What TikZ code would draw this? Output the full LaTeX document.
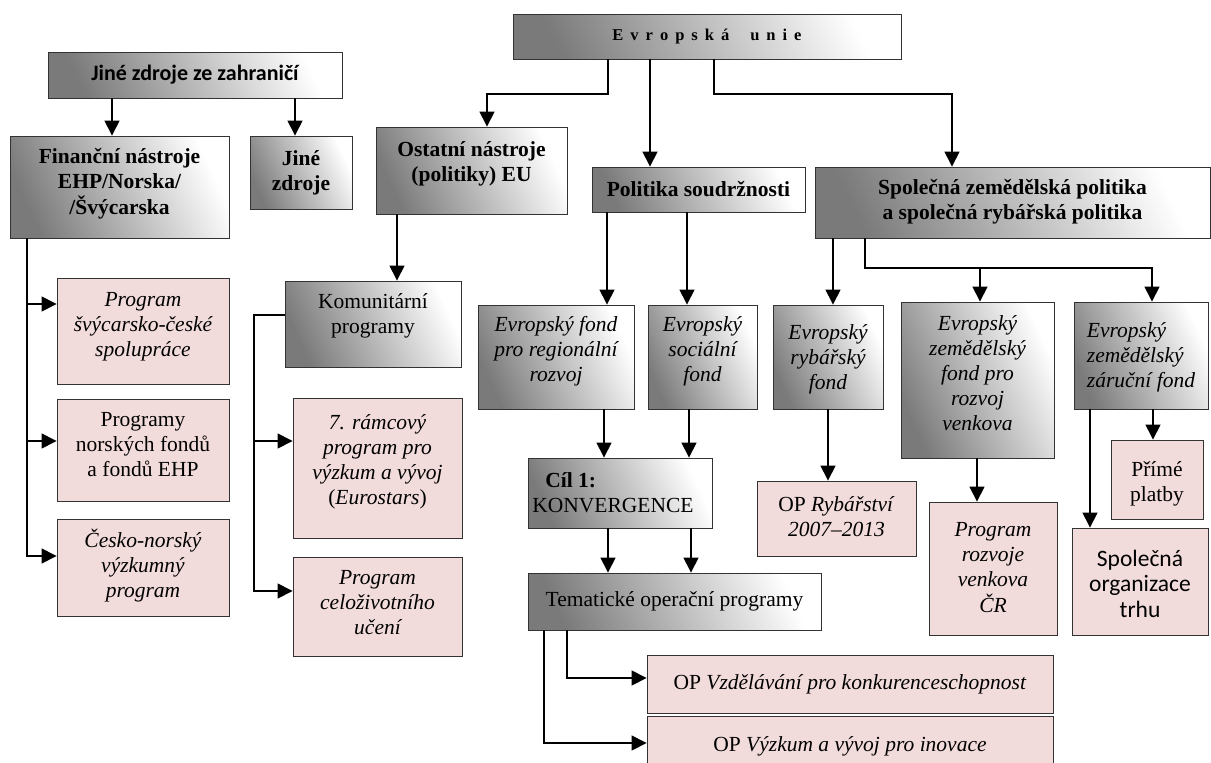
\documentclass[tikz,border=0pt]{standalone}
\usepackage{fontspec}
\setmainfont{Liberation Serif}
\newfontfamily\calib{Carlito}
\usetikzlibrary{arrows.meta}
\definecolor{pinkc}{HTML}{F2DCDB}
\newcommand\lsp{\hspace{7pt}}
\newcommand\tb[3][c]{\raisebox{#2}[\height][\depth]{\begin{tabular}{@{}#1@{}}#3\end{tabular}}}
\begin{document}
\begin{tikzpicture}[x=1pt,y=-1pt,
  base/.style={rectangle, inner sep=0pt, align=center, line width=0.9pt, draw=black!80,
    font=\fontsize{21.5}{25}\selectfont, text=black},
  gbox/.style={base, left color=black!52, right color=white, shading angle=115},
  pbox/.style={base, fill=pinkc},
  bf/.style={font=\bfseries\fontsize{21.5}{25}\selectfont},
  it/.style={font=\itshape\fontsize{21.5}{25}\selectfont},
  arr/.style={line width=1.5pt, -{Triangle[width=15pt,length=15pt]}}]
\clip (0,0) rectangle (1211,763);
\fill[white] (0,0) rectangle (1211,763);

% guide coordinates
\coordinate (g112) at (112,0);
\coordinate (g295) at (295,0);
\coordinate (k0) at (608,94);
\coordinate (k1) at (487,94);
\coordinate (g650) at (650,0);
\coordinate (k2) at (714,94);
\coordinate (k3) at (952,94);
\coordinate (k4) at (27,0);
\coordinate (p1) at (27,304);
\coordinate (p2) at (27,441);
\coordinate (p3) at (27,556);
\coordinate (g397) at (397,0);
\coordinate (q0) at (254,315);
\coordinate (q1) at (254,441);
\coordinate (q2) at (254,591);
\coordinate (g607) at (607,0);
\coordinate (g687) at (687,0);
\coordinate (g833) at (833,0);
\coordinate (r0) at (865,268);
\coordinate (r1) at (1152,268);
\coordinate (r2) at (980,268);
\coordinate (g604) at (604,0);
\coordinate (g689) at (689,0);
\coordinate (g608) at (608,0);
\coordinate (g691) at (691,0);
\coordinate (g828) at (828,0);
\coordinate (g977) at (977,0);
\coordinate (g1090) at (1090,0);
\coordinate (g1153) at (1153,0);
\coordinate (s1) at (567,678);
\coordinate (s2) at (544,743);

% nodes
\node[gbox, minimum width=294, minimum height=46, font=\calib\bfseries\fontsize{22}{25}\selectfont] (jz) at (195,75) {Jiné zdroje ze zahraničí};
\node[gbox, bf, minimum width=219, minimum height=102] (fin) at (119.5,187) {\tb{3pt}{Finanční nástroje\\EHP/Norska/\\/Švýcarska}};
\node[gbox, bf, minimum width=102, minimum height=73] (jin) at (301,172.5) {\tb{0pt}{Jiné\\zdroje}};
\node[gbox, minimum width=388, minimum height=45, font=\bfseries\fontsize{16.5}{20}\selectfont] (eu) at (707,36.5) {E\lsp v\lsp r\lsp o\lsp p\lsp s\lsp k\lsp á\lsp\lsp\lsp u\lsp n\lsp i\lsp e};
\node[gbox, bf, minimum width=191, minimum height=87] (ost) at (471.5,170.5) {\tb{7pt}{Ostatní nástroje\\(politiky) EU}};
\node[gbox, bf, minimum width=213, minimum height=45] (pol) at (698.5,189.5) {Politika soudržnosti};
\node[gbox, bf, minimum width=395, minimum height=71] (szp) at (1012.5,202.5) {\tb{1pt}{Společná zemědělská politika\\a společná rybářská politika}};
\node[gbox, minimum width=176, minimum height=86] (kom) at (373,324) {\tb{8pt}{Komunitární\\programy}};
\node[gbox, it, minimum width=156, minimum height=104] (erdf) at (556,357) {\tb{6pt}{Evropský fond\\pro regionální\\rozvoj}};
\node[gbox, it, minimum width=109, minimum height=104] (esf) at (702.5,357) {\tb{6pt}{Evropský\\sociální\\fond}};
\node[gbox, it, minimum width=110, minimum height=104] (erf) at (828,357) {\tb{-2pt}{Evropský\\rybářský\\fond}};
\node[gbox, it, minimum width=153, minimum height=156] (ezfrv) at (977.5,380) {\tb{5pt}{Evropský\\zemědělský\\fond pro\\rozvoj\\venkova}};
\node[gbox, it, minimum width=134, minimum height=107] (ezzf) at (1141,355.5) {\tb[l]{-2pt}{Evropský\\zemědělský\\záruční fond}};
\node[gbox, minimum width=184, minimum height=70] (cil) at (620,493) {\tb[l]{-2pt}{\hspace{13pt}\textbf{Cíl 1:}\\KONVERGENCE}\hspace{14pt}};
\node[gbox, minimum width=293, minimum height=57] (tem) at (674.5,601.5) {\raisebox{2pt}{Tematické operační programy}};
\node[pbox, minimum width=406, minimum height=58] (opv) at (850,684) {OP \textit{Vzdělávání pro konkurenceschopnost}};
\node[pbox, minimum width=406, minimum height=60] (opvv) at (850,746) {\raisebox{4pt}{OP \textit{Výzkum a vývoj pro inovace}}};
\node[pbox, minimum width=159, minimum height=75] (oprb) at (836.5,518.5) {\tb{0pt}{OP \textit{Rybářství}\\\textit{2007–2013}}};
\node[pbox, it, minimum width=128, minimum height=133] (prv) at (993,568.5) {\tb{-1pt}{Program\\rozvoje\\venkova\\ČR}};
\node[pbox, minimum width=92, minimum height=79] (pp) at (1157,479.5) {\tb{-4pt}{Přímé\\platby}};
\node[pbox, minimum width=136, minimum height=107, font=\calib\fontsize{23.5}{25.5}\selectfont] (sot) at (1140,581.5) {\tb{-5pt}{Společná\\organizace\\trhu}};
\node[pbox, it, minimum width=172, minimum height=106] (psc) at (143,331) {\tb{5pt}{Program\\švýcarsko-české\\spolupráce}};
\node[pbox, minimum width=172, minimum height=102] (pnf) at (143,450) {\tb{4pt}{Programy\\norských fondů\\a fondů EHP}};
\node[pbox, it, minimum width=172, minimum height=97] (cnv) at (143,567.5) {\tb{0pt}{Česko-norský\\výzkumný\\program}};
\node[pbox, minimum width=169, minimum height=140] (rp7) at (377.5,468) {\tb{6pt}{\textit{7. rámcový}\\\textit{program pro}\\\textit{výzkum a vývoj}\\(\textit{Eurostars})}};
\node[pbox, it, minimum width=169, minimum height=99] (pcu) at (377.5,606.5) {\tb{2pt}{Program\\celoživotního\\učení}};

% connectors
\draw[arr] (jz.south -| g112) -- (fin.north -| g112);
\draw[arr] (jz.south -| g295) -- (jin.north -| g295);
\draw[arr] (eu.south -| k0) -- (k0) -- (k1) -- (ost.north -| k1);
\draw[arr] (eu.south -| g650) -- (pol.north -| g650);
\draw[arr] (eu.south -| k2) -- (k2) -- (k3) -- (szp.north -| k3);
\draw[arr] (fin.south -| k4) -- (p3) -- (cnv.west |- p3);
\draw[arr] (p1) -- (psc.west |- p1);
\draw[arr] (p2) -- (pnf.west |- p2);
\draw[arr] (ost.south -| g397) -- (kom.north -| g397);
\draw[arr] (kom.west |- q0) -- (q0) -- (q2) -- (pcu.west |- q2);
\draw[arr] (q1) -- (rp7.west |- q1);
\draw[arr] (pol.south -| g607) -- (erdf.north -| g607);
\draw[arr] (pol.south -| g687) -- (esf.north -| g687);
\draw[arr] (szp.south -| g833) -- (erf.north -| g833);
\draw[arr] (szp.south -| r0) -- (r0) -- (r1) -- (ezzf.north -| r1);
\draw[arr] (r2) -- (ezfrv.north -| r2);
\draw[arr] (erdf.south -| g604) -- (cil.north -| g604);
\draw[arr] (esf.south -| g689) -- (cil.north -| g689);
\draw[arr] (cil.south -| g608) -- (tem.north -| g608);
\draw[arr] (cil.south -| g691) -- (tem.north -| g691);
\draw[arr] (erf.south -| g828) -- (oprb.north -| g828);
\draw[arr] (ezfrv.south -| g977) -- (prv.north -| g977);
\draw[arr] (ezzf.south -| g1090) -- (sot.north -| g1090);
\draw[arr] (ezzf.south -| g1153) -- (pp.north -| g1153);
\draw[arr] (tem.south -| s1) -- (s1) -- (opv.west |- s1);
\draw[arr] (tem.south -| s2) -- (s2) -- (opvv.west |- s2);
\end{tikzpicture}
\end{document}
